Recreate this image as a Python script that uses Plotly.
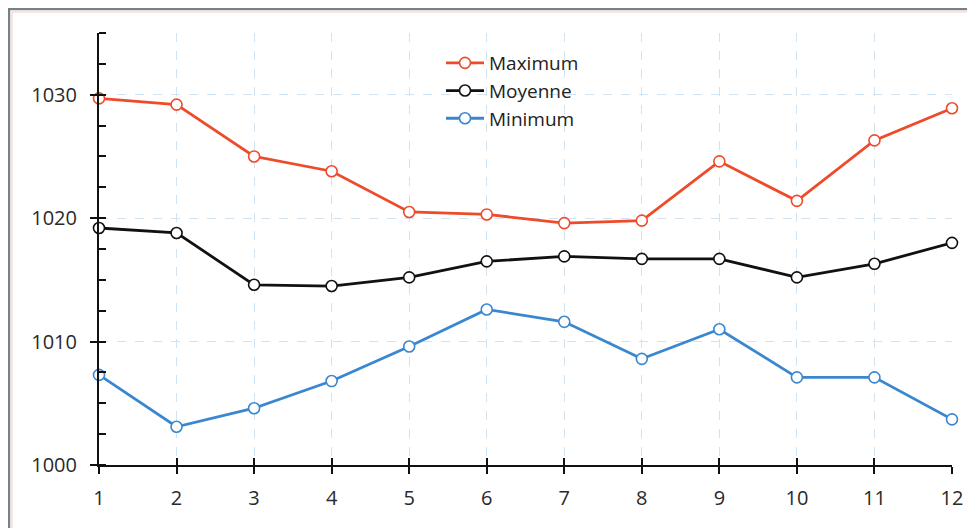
import plotly.graph_objects as go

months = [1, 2, 3, 4, 5, 6, 7, 8, 9, 10, 11, 12]
maximum = [1029.7, 1029.2, 1025.0, 1023.8, 1020.5, 1020.3, 1019.6, 1019.8, 1024.6, 1021.4, 1026.3, 1028.9]
moyenne = [1019.2, 1018.8, 1014.6, 1014.5, 1015.2, 1016.5, 1016.9, 1016.7, 1016.7, 1015.2, 1016.3, 1018.0]
minimum = [1007.3, 1003.1, 1004.6, 1006.8, 1009.6, 1012.6, 1011.6, 1008.6, 1011.0, 1007.1, 1007.1, 1003.7]
series_names = ["Maximum", "Moyenne", "Minimum"]
colors = ["#EE4B2B", "#111111", "#3A87CF"]
y_ticks = [1000, 1010, 1020, 1030]

# browser body margin offset
O = 8
W, H = 975 - O, 528 - O
# absolute plot-area bounds in the screenshot
PL, PR, PT, PB = 99, 952, 33, 465
L, T = PL - O, PT - O
R = W + O - PR
B = H + O - PB

fig = go.Figure()
for name, vals, c in zip(series_names, [maximum, moyenne, minimum], colors):
    fig.add_trace(go.Scatter(
        x=months, y=vals, name=name, mode="lines+markers",
        line=dict(color=c, width=2.8),
        marker=dict(symbol="circle", size=11, color="white", line=dict(color=c, width=1.6)),
        cliponaxis=False,
    ))

fig.add_trace(go.Scatter(x=[1], y=[1000], xaxis="x2", yaxis="y2", mode="markers",
                         marker=dict(opacity=0), showlegend=False, hoverinfo="skip"))

pw = PR - PL
ph = PB - PT
def px(x):
    return (x - PL) / pw
def py(y):
    return (PB - y) / ph

font_fam = "Open Sans, Liberation Sans, sans-serif"
fig.update_layout(
    width=W, height=H,
    margin=dict(l=L, r=R, t=T, b=B, autoexpand=False),
    paper_bgcolor="white", plot_bgcolor="white",
    showlegend=True,
    legend=dict(x=px(441), y=py(44), xanchor="left", yanchor="top",
                font=dict(family=font_fam, size=19, color="#222"),
                itemwidth=38,
                bgcolor="rgba(0,0,0,0)", tracegroupgap=0),
    xaxis=dict(range=[1, 12], tickmode="array", tickvals=months,
               ticks="outside", ticklen=7, tickwidth=2, tickcolor="#111",
               showline=True, linecolor="#111", linewidth=2,
               showgrid=True, gridcolor="#CFE3F3", griddash="dash", gridwidth=1,
               zeroline=False,
               tickfont=dict(family=font_fam, size=20, color="#2a2a2a"),
               ticklabelstandoff=7),
    yaxis=dict(range=[1000, 1035], tickmode="array", tickvals=y_ticks,
               ticks="outside", ticklen=7, tickwidth=2, tickcolor="#111",
               showline=True, linecolor="#111", linewidth=2,
               showgrid=True, gridcolor="#CFE3F3", griddash="dash", gridwidth=1,
               zeroline=False,
               minor=dict(dtick=2.5, ticks="inside", ticklen=7, tickwidth=2, tickcolor="#111", showgrid=False),
               tickfont=dict(family=font_fam, size=20, color="#2a2a2a"),
               ticklabelstandoff=9),
    xaxis2=dict(range=[1, 12], overlaying="x", tickmode="array", tickvals=months,
                ticks="inside", ticklen=7, tickwidth=2, tickcolor="#111",
                showticklabels=False, showgrid=False, showline=False, zeroline=False),
    yaxis2=dict(range=[1000, 1035], overlaying="y", tickmode="array", tickvals=y_ticks,
                ticks="inside", ticklen=7, tickwidth=2, tickcolor="#111",
                showticklabels=False, showgrid=False, showline=False, zeroline=False),
)

fig.add_shape(type="rect", xref="paper", yref="paper",
              x0=px(9), x1=px(1100), y0=py(700), y1=py(9),
              line=dict(color="#7A7F85", width=2.5), layer="below")
fig.add_shape(type="rect", xref="paper", yref="paper",
              x0=px(12), x1=px(1100), y0=py(700), y1=py(12),
              line=dict(color="#F6C9B8", width=1), layer="below")

fig.write_html("out.html")
